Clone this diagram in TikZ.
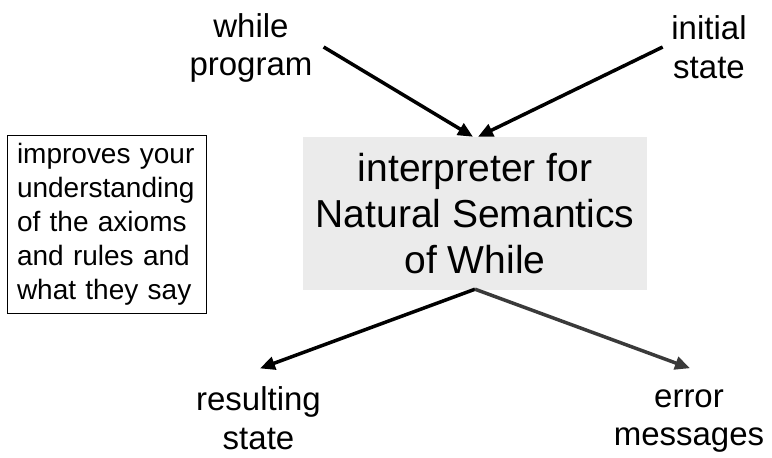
\documentclass[tikz,border=0pt]{standalone}
\usepackage{fontspec}
\setmainfont{Liberation Sans}
\usetikzlibrary{arrows.meta}
\definecolor{boxgray}{HTML}{EBEBEB}
\definecolor{arrgray}{HTML}{3A3A3A}
\begin{document}
\begin{tikzpicture}[x=1pt,y=-1pt,
  lbl/.style={align=center,inner sep=0pt,font=\fontsize{33}{38.5}\selectfont},
  arr/.style={line width=3.5pt,-{Triangle[length=15pt,width=13pt]}},
  centre/.style={fill=boxgray,minimum width=344pt,minimum height=153pt,inner sep=0pt,align=center,font=\fontsize{39}{46}\selectfont},
  note/.style={draw,line width=1pt,minimum width=199pt,minimum height=178pt,text width=180pt,inner sep=0pt,align=left,font=\fontsize{28}{34}\selectfont}
 ]
\useasboundingbox (0,0) rectangle (772,458);
\node[lbl] (wp) at (251,48) {while\\program};
\node[lbl] (is) at (709,47) {initial\\state};
\node[lbl] (rs) at (258.5,418) {resulting\\state};
\node[lbl] (em) at (689,421) {error\\messages};
\node[centre] (box) at (475,213.5) {interpreter for\\Natural Semantics\\of While};
\node[note] (nt) at (107,224) {improves your\\understanding\\of the axioms\\and rules and\\what they say};
\draw[arr] ([xshift=11pt,yshift=1pt]wp.east) -- ([xshift=-2pt]box.north);
\draw[arr] ([xshift=-8.5pt]is.west) -- ([xshift=3pt]box.north);
\draw[arr] ([yshift=1pt]box.south) -- ([xshift=1.5pt,yshift=18pt]rs.north);
\draw[arr,draw=arrgray] ([yshift=1pt]box.south) -- ([xshift=1pt,yshift=21pt]em.north);
\end{tikzpicture}
\end{document}
